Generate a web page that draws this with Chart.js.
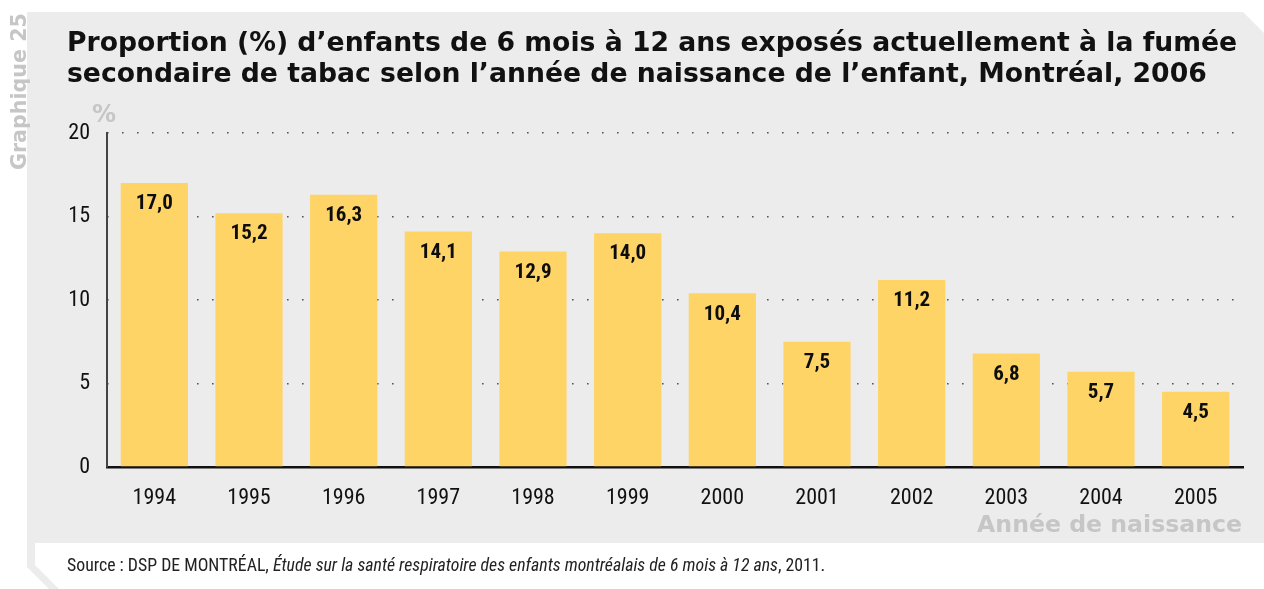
<!DOCTYPE html>
<html lang="fr">
<head>
<meta charset="utf-8">
<script src="https://cdn.jsdelivr.net/npm/chart.js@4/dist/chart.umd.min.js"></script>
<style>
  html, body { margin: 0; padding: 0; background: #ffffff; overflow: hidden; }
  #wrap { width: 1264px; height: 589px; position: relative; }
  canvas { display: block; }
</style>
</head>
<body>
<div id="wrap"><canvas id="chart" width="1264" height="589"></canvas></div>
<script>
// Année de naissance de l'enfant
const birthYears = ['1994', '1995', '1996', '1997', '1998', '1999', '2000', '2001', '2002', '2003', '2004', '2005'];
// Proportion (%) d'enfants exposés actuellement à la fumée secondaire
const exposedPct = [17.0, 15.2, 16.3, 14.1, 12.9, 14.0, 10.4, 7.5, 11.2, 6.8, 5.7, 4.5];
// Graduations de l'axe vertical
const yTickValues = [0, 5, 10, 15, 20];

const titleLines = [
  'Proportion (%) d\u2019enfants de 6 mois \u00e0 12 ans expos\u00e9s actuellement \u00e0 la fum\u00e9e',
  'secondaire de tabac selon l\u2019ann\u00e9e de naissance de l\u2019enfant, Montr\u00e9al, 2006'
];
const graphLabel = 'Graphique 25';
const yUnit = '%';
const xTitle = 'Ann\u00e9e de naissance';
const sourceParts = [
  { text: 'Source : DSP DE MONTR\u00c9AL, ', italic: false },
  { text: '\u00c9tude sur la sant\u00e9 respiratoire des enfants montr\u00e9alais de 6 mois \u00e0 12 ans', italic: true },
  { text: ', 2011.', italic: false }
];

const WIDE = '"DejaVu Sans", "Open Sans", sans-serif';
const NARROW = '"Liberation Sans Narrow", "Roboto Condensed", "Arial Narrow", Roboto, sans-serif';
const PANEL = '#ececec';
const BAR = '#ffd467';
const LABEL_GREY = '#c6c6c6';

const fmt = v => v.toFixed(1).replace('.', ',');

// Font size that makes a string span a given width
function fitSize(ctx, text, style, family, width) {
  ctx.font = style + ' 100px ' + family;
  return 100 * width / ctx.measureText(text).width;
}

const decorPlugin = {
  id: 'decor',
  beforeDraw(chart) {
    const ctx = chart.ctx;
    ctx.save();
    // grey panel with clipped top-right corner
    ctx.fillStyle = PANEL;
    ctx.beginPath();
    ctx.moveTo(27, 12);
    ctx.lineTo(1243, 12);
    ctx.lineTo(1264, 33);
    ctx.lineTo(1264, 543);
    ctx.lineTo(27, 543);
    ctx.closePath();
    ctx.fill();
    // frame around the source note, bevelled bottom-left
    ctx.beginPath();
    ctx.moveTo(27, 543);
    ctx.lineTo(35, 543);
    ctx.lineTo(35, 565);
    ctx.lineTo(59, 589);
    ctx.lineTo(49, 589);
    ctx.lineTo(27, 567);
    ctx.closePath();
    ctx.fill();
    ctx.restore();
  },
  afterDraw(chart) {
    const ctx = chart.ctx;
    ctx.save();
    // title
    ctx.fillStyle = '#111111';
    ctx.textAlign = 'left';
    ctx.textBaseline = 'alphabetic';
    const ts = fitSize(ctx, titleLines[0], 'bold', WIDE, 1171);
    ctx.font = 'bold ' + ts + 'px ' + WIDE;
    ctx.fillText(titleLines[0], 67, 51);
    ctx.fillText(titleLines[1], 67, 82);

    // vertical figure number
    ctx.save();
    ctx.translate(26, 170);
    ctx.rotate(-Math.PI / 2);
    ctx.fillStyle = LABEL_GREY;
    const gs = fitSize(ctx, graphLabel, 'bold', WIDE, 157);
    ctx.font = 'bold ' + gs + 'px ' + WIDE;
    ctx.textAlign = 'left';
    ctx.fillText(graphLabel, 0, 0);
    ctx.restore();

    // unit and axis title
    ctx.fillStyle = LABEL_GREY;
    ctx.font = 'bold 24px ' + WIDE;
    ctx.textAlign = 'left';
    ctx.fillText(yUnit, 92, 122);
    const xs = fitSize(ctx, xTitle, 'bold', WIDE, 265);
    ctx.font = 'bold ' + xs + 'px ' + WIDE;
    ctx.textAlign = 'right';
    ctx.fillText(xTitle, 1242, 532);

    // source note
    ctx.fillStyle = '#222222';
    ctx.textAlign = 'left';
    let total = 0;
    sourceParts.forEach(p => {
      ctx.font = (p.italic ? 'italic ' : '') + '100px ' + NARROW;
      total += ctx.measureText(p.text).width;
    });
    const ss = 100 * 759 / total;
    let x = 67;
    sourceParts.forEach(p => {
      ctx.font = (p.italic ? 'italic ' : '') + ss + 'px ' + NARROW;
      ctx.fillText(p.text, x, 571);
      x += ctx.measureText(p.text).width;
    });
    ctx.restore();
  },
  afterDatasetsDraw(chart) {
    const ctx = chart.ctx;
    const meta = chart.getDatasetMeta(0);
    ctx.save();
    ctx.fillStyle = '#0d0d0d';
    ctx.font = 'bold 21px ' + NARROW;
    ctx.textAlign = 'center';
    ctx.textBaseline = 'middle';
    meta.data.forEach((bar, i) => {
      ctx.fillText(fmt(exposedPct[i]), bar.x, bar.y + 21);
    });
    ctx.restore();
  }
};

new Chart(document.getElementById('chart'), {
  type: 'bar',
  data: {
    labels: birthYears,
    datasets: [{
      data: exposedPct,
      backgroundColor: BAR,
      borderWidth: 0,
      categoryPercentage: 1.0,
      barPercentage: 0.71
    }]
  },
  options: {
    responsive: false,
    devicePixelRatio: 1,
    animation: false,
    events: [],
    layout: { padding: { left: 0, right: 21, top: 133, bottom: 0 } },
    plugins: { legend: { display: false }, tooltip: { enabled: false }, title: { display: false } },
    scales: {
      x: {
        grid: { display: false, drawTicks: false },
        border: { display: true, color: '#111111', width: 2.5 },
        ticks: {
          color: '#111111',
          font: { family: NARROW, size: 22 },
          padding: 18,
          maxRotation: 0
        },
        afterFit(scale) { scale.height = 122; }
      },
      y: {
        min: 0,
        max: 20,
        afterBuildTicks(scale) { scale.ticks = yTickValues.map(v => ({ value: v })); },
        grid: {
          color: ctx => (ctx.tick && ctx.tick.value === 0) ? 'rgba(0,0,0,0)' : '#555555',
          lineWidth: 1.6,
          drawTicks: false
        },
        border: { display: true, color: '#444444', width: 2, dash: [1.6, 13.4], dashOffset: -14 },
        ticks: {
          color: '#111111',
          font: { family: NARROW, size: 22 },
          padding: 17,
          callback: v => String(v)
        },
        afterFit(scale) { scale.width = 107; }
      }
    }
  },
  plugins: [decorPlugin]
});
</script>
</body>
</html>
